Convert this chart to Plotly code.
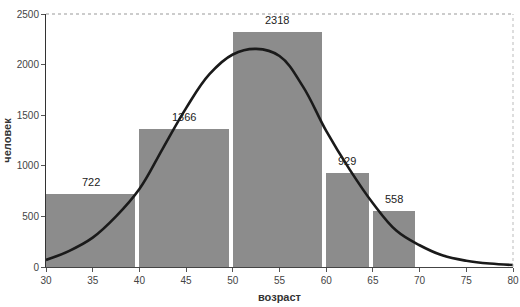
import plotly.graph_objects as go

# Histogram bins (age) and counts
bin_lo = [30, 40, 50, 60, 65]
bin_hi = [40, 50, 60, 65, 70]
counts = [722, 1366, 2318, 929, 558]

# Fitted normal curve
curve_x = [30, 32.5, 35, 37.5, 40, 42.5, 45, 47.5, 50, 52.5, 55, 57.5, 60,
           62.5, 65, 67.5, 70, 72.5, 75, 77.5, 80]
curve_y = [70, 160, 290, 500, 770, 1170, 1570, 1905, 2100, 2155, 2085, 1785, 1345,
           965, 630, 360, 215, 113, 62, 34, 20]

x_ticks = [30, 35, 40, 45, 50, 55, 60, 65, 70, 75, 80]
y_ticks = [0, 500, 1000, 1500, 2000, 2500]

gap = 0.45
widths = [h - l - gap for l, h in zip(bin_lo, bin_hi)]

fig = go.Figure()
fig.add_trace(go.Bar(
    x=bin_lo, y=counts, width=widths, offset=0,
    marker=dict(color="#8c8c8c", line=dict(width=0)),
    showlegend=False,
))
fig.add_trace(go.Scatter(
    x=curve_x, y=curve_y, mode="lines",
    line=dict(color="#1a1a1a", width=2.6, shape="spline", smoothing=1.1),
    showlegend=False,
))

annotations = [
    dict(x=l + w / 2, y=c, text=str(c), showarrow=False, yshift=12,
         font=dict(family="Liberation Sans, Arial", size=11, color="#222"))
    for l, w, c in zip(bin_lo, widths, counts)
]

fig.update_layout(
    width=520, height=307,
    margin=dict(l=46, r=7, t=14, b=40),
    paper_bgcolor="white", plot_bgcolor="white",
    font=dict(family="Liberation Sans, Arial", size=10, color="#333"),
    bargap=0,
    annotations=annotations,
    xaxis=dict(
        range=[30, 80], tickvals=x_ticks, ticks="outside", ticklen=4,
        tickcolor="#555", showgrid=False, zeroline=False, automargin=False,
        showline=True, linecolor="#444", linewidth=1,
        tickfont=dict(size=10, color="#444"),
        title=dict(text="<b>возраст</b>", font=dict(size=11, color="#333"), standoff=8),
    ),
    yaxis=dict(
        range=[0, 2500], tickvals=y_ticks, ticks="outside", ticklen=4,
        tickcolor="#555", showgrid=False, zeroline=False, automargin=False,
        showline=True, linecolor="#333", linewidth=1,
        tickfont=dict(size=10, color="#444"),
        title=dict(text="<b>человек</b>", font=dict(size=11, color="#333"), standoff=2),
    ),
    shapes=[
        dict(type="line", xref="paper", yref="paper", x0=0, x1=1, y0=1, y1=1,
             line=dict(color="#999", width=1, dash="dot")),
        dict(type="line", xref="paper", yref="paper", x0=1, x1=1, y0=0, y1=1,
             line=dict(color="#bbb", width=1, dash="dot")),
    ],
)

fig.write_html("out.html", config={"displayModeBar": False},
               post_script="document.body.style.margin='0';")
